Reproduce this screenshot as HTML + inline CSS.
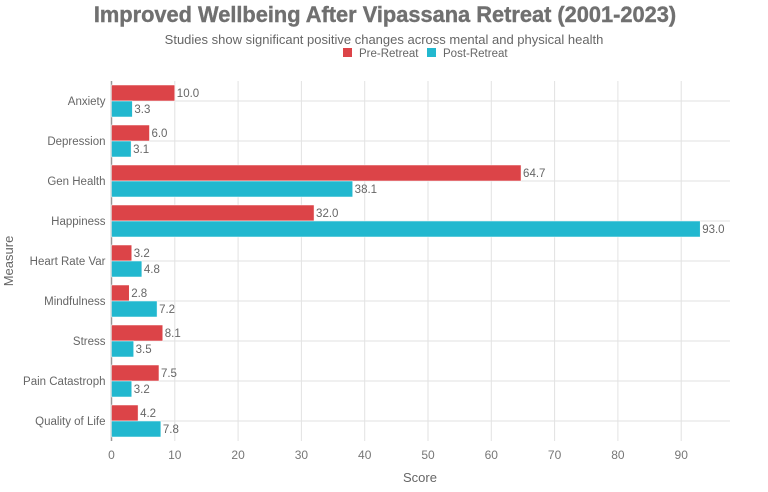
<!DOCTYPE html>
<html><head><meta charset="utf-8"><style>
body{margin:0;background:#fff;font-family:"Liberation Sans",sans-serif}
svg text{font-family:"Liberation Sans",sans-serif}
</style></head><body>
<svg width="768" height="487">
<text x="385" y="22" text-anchor="middle" font-size="21.8" font-weight="bold" fill="#707070" stroke="#707070" stroke-width="0.4">Improved Wellbeing After Vipassana Retreat (2001-2023)</text>
<text x="384" y="44" text-anchor="middle" font-size="13" fill="#666">Studies show significant positive changes across mental and physical health</text>
<g>
<rect x="343" y="48" width="9" height="9" fill="#dc4448"/>
<text x="359" y="57" font-size="11.5" fill="#666">Pre-Retreat</text>
<rect x="427" y="48" width="9" height="9" fill="#22b8cf"/>
<text x="443" y="57" font-size="11.5" fill="#666">Post-Retreat</text>
</g>
<g id="grid"></g><g id="bars"></g><g id="labels"></g>
<text x="420" y="482" text-anchor="middle" font-size="13" fill="#666">Score</text>
<text transform="translate(13,261) rotate(-90)" text-anchor="middle" font-size="13" fill="#666">Measure</text>
</svg>
<script>
const categories=["Anxiety","Depression","Gen Health","Happiness","Heart Rate Var","Mindfulness","Stress","Pain Catastroph","Quality of Life"];
const preValues=[10.0,6.0,64.7,32.0,3.2,2.8,8.1,7.5,4.2];
const postValues=[3.3,3.1,38.1,93.0,4.8,7.2,3.5,3.2,7.8];
const xTicks=[0,10,20,30,40,50,60,70,80,90];
const NS="http://www.w3.org/2000/svg";
const L=111.5,R=730,T=81,B=441,PX=6.33;
const band=(B-T)/categories.length;
const xs=v=>L+v*PX;
const yc=i=>T+band*(i+0.5);
function mk(tag,attrs,parent){const e=document.createElementNS(NS,tag);for(const k in attrs)e.setAttribute(k,attrs[k]);document.getElementById(parent).appendChild(e);return e;}
xTicks.forEach(t=>{
 const l=mk('line',{x1:xs(t),x2:xs(t),y1:T,y2:B,stroke:t===0?'#999':'#e2e2e2','stroke-width':t===0?1.5:1},'grid');
 
 
 const tx=mk('text',{x:xs(t),y:B+18,'text-anchor':'middle','font-size':12,fill:'#777'},'labels');
 tx.textContent=t;
 
 
});
categories.forEach((c,i)=>{
 const g=mk('line',{x1:L,x2:R,y1:yc(i),y2:yc(i),stroke:'#e2e2e2'},'grid');
 
 
 const ty=mk('text',{x:L-6,y:yc(i)+4,'text-anchor':'end','font-size':11.5,fill:'#666'},'labels');
 ty.textContent=c;
 
 
 [[preValues[i],'#dc4448',-16,'pre'],[postValues[i],'#22b8cf',0,'post']].forEach(([v,col,off,nm])=>{
  const r=mk('rect',{x:L,y:yc(i)+off,width:xs(v)-L,height:16,fill:col,stroke:'#fff','stroke-width':0.5},'bars');
  
  
  const lt=mk('text',{x:xs(v)+2,y:yc(i)+off+12,'font-size':11.5,fill:'#666'},'labels');
  lt.textContent=v.toFixed(1);
  
  
 });
});
</script>
</body></html>
